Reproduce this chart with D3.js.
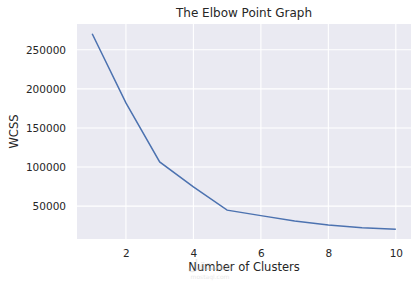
<!DOCTYPE html>
<html>
<head>
<meta charset="utf-8">
<script src="https://cdn.jsdelivr.net/npm/d3@7"></script>
<style>
body{margin:0;background:#fff;}
text{font-family:"DejaVu Sans",sans-serif;fill:#262626;}
</style>
</head>
<body>
<div class="canvas"></div>
<script>
const clusters=[1,2,3,4,5,6,7,8,9,10];
const wcss=[270500,182000,106500,74500,44800,37800,30900,25800,22200,20400];
const xTicks=[2,4,6,8,10];
const yTicks=[50000,100000,150000,200000,250000];

const W=417,H=284;
const margin={left:77,top:24,right:6,bottom:45};
const graphWidth=W-margin.left-margin.right;
const graphHeight=H-margin.top-margin.bottom;

const svg=d3.select('.canvas').append('svg')
.attr("width",W)
.attr('height',H);

const graph=svg.append('g')
.attr("transform",`translate(${margin.left},${margin.top})`);

graph.append('rect')
.attr("width",graphWidth)
.attr("height",graphHeight)
.attr("fill","#eaeaf2");

// matplotlib style 5% margins
const xr=d3.extent(clusters),yr=d3.extent(wcss);
const xm=(xr[1]-xr[0])*0.05,ym=(yr[1]-yr[0])*0.05;

const x=d3.scaleLinear()
.domain([xr[0]-xm,xr[1]+xm])
.range([0,graphWidth]);

const y=d3.scaleLinear()
.domain([yr[0]-ym,yr[1]+ym])
.range([graphHeight,0]);

// grid
graph.append('g').selectAll('line')
.data(xTicks).enter().append('line')
.attr("x1",d=>x(d)).attr("x2",d=>x(d))
.attr("y1",0).attr("y2",graphHeight)
.attr("stroke","#fff").attr("stroke-width",1.1);

graph.append('g').selectAll('line')
.data(yTicks).enter().append('line')
.attr("y1",d=>y(d)).attr("y2",d=>y(d))
.attr("x1",0).attr("x2",graphWidth)
.attr("stroke","#fff").attr("stroke-width",1.1);

// axes
const xAxis=d3.axisBottom(x).tickValues(xTicks).tickSize(0).tickPadding(11)
.tickFormat(d3.format("d"));
const yAxis=d3.axisLeft(y).tickValues(yTicks).tickSize(0).tickPadding(11)
.tickFormat(d3.format("d"));

const xAxisGroup=graph.append('g')
.attr("transform",`translate(0,${graphHeight})`)
.call(xAxis);
const yAxisGroup=graph.append('g').call(yAxis);

[xAxisGroup,yAxisGroup].forEach(g=>{
  g.select('.domain').remove();
  g.selectAll('text').attr("font-size","10.5px").attr("fill","#262626")
  .style("font-family","'DejaVu Sans',sans-serif");
});

// line
const line=d3.line()
.x((d,i)=>x(clusters[i]))
.y(d=>y(d));

graph.append('path')
.datum(wcss)
.attr("d",line)
.attr("fill","none")
.attr("stroke","#4c72b0")
.attr("stroke-width",1.5);

// labels
svg.append('text')
.attr("x",margin.left+graphWidth/2)
.attr("y",17)
.attr("text-anchor","middle")
.attr("font-size","12px")
.text("The Elbow Point Graph");

svg.append('text')
.attr("x",margin.left+graphWidth/2)
.attr("y",271)
.attr("text-anchor","middle")
.attr("font-size","11.5px")
.text("Number of Clusters");

svg.append('text')
.attr("transform",`translate(18,${margin.top+graphHeight/2}) rotate(-90)`)
.attr("text-anchor","middle")
.attr("font-size","11.5px")
.text("WCSS");

// faint watermark
svg.append('text')
.attr("x",210).attr("y",270)
.attr("text-anchor","middle")
.attr("font-size","15px")
.style("fill","#bbb").attr("opacity",0.35)
.text("مستقل");
svg.append('text')
.attr("x",210).attr("y",279)
.attr("text-anchor","middle")
.attr("font-size","6px")
.style("fill","#bbb").attr("opacity",0.35)
.text("mostaql.com");
</script>
</body>
</html>
